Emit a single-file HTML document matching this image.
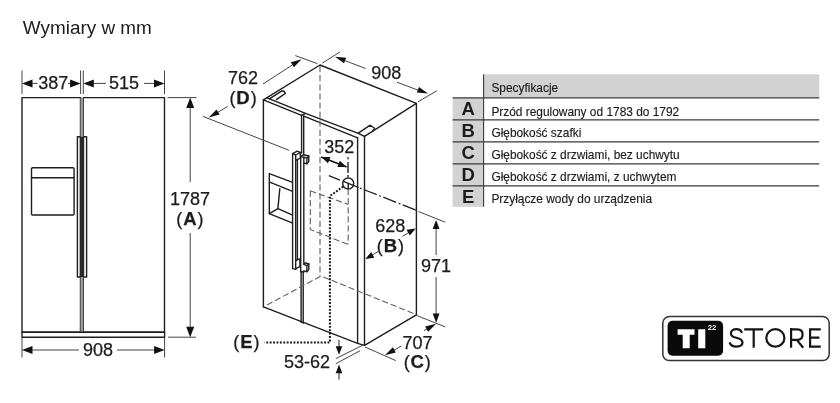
<!DOCTYPE html>
<html><head><meta charset="utf-8">
<style>
html,body{margin:0;padding:0;background:#fff;}
body{width:840px;height:403px;overflow:hidden;position:relative;font-family:"Liberation Sans",sans-serif;}
svg{position:absolute;left:0;top:0;filter:blur(0.45px);}
text{font-family:"Liberation Sans",sans-serif;fill:#1c1c1c;}
.k{stroke:#1e1e1e;stroke-width:1.4;fill:none;stroke-linecap:round;stroke-linejoin:round;}
.t{stroke:#444;stroke-width:1;fill:none;}
.d{stroke:#606060;stroke-width:1.1;fill:none;stroke-dasharray:6.2 2.9;}
.dd{stroke:#222;stroke-width:1.3;fill:none;stroke-dasharray:14 2.6 1.8 2.6;}
.dot{stroke:#161616;stroke-width:2;fill:none;stroke-dasharray:1.9 1.5;}
.a{fill:#111;stroke:none;}
.n{font-size:18px;text-anchor:middle;stroke:#1c1c1c;stroke-width:0.25;}
.b{font-weight:bold;font-size:18.5px;}
.p{letter-spacing:0.9px;}
.s{font-size:11.9px;stroke:#1c1c1c;stroke-width:0.15;}
.L{font-size:18.5px;font-weight:bold;text-anchor:middle;}
</style></head><body>
<svg width="840" height="403" viewBox="0 0 840 403">
<defs>
<path id="ah" d="M0,0 L-10.5,-4 L-10.5,4 Z"/>
<path id="ai" d="M0,0 L-10.8,-3 L-10.8,3 Z"/>
<path id="av" d="M0,0 L-9.2,-3.4 L-9.2,3.4 Z"/>
<path id="as" d="M0,0 L-8.6,-3.3 L-8.6,3.3 Z"/>
</defs>
<text id="title" x="22.8" y="33.8" font-size="18.4" textLength="129" lengthAdjust="spacingAndGlyphs">Wymiary w mm</text>

<!-- FRONT VIEW -->
<g id="front">
<rect class="k" x="22" y="97.6" width="58.5" height="234.7"/>
<rect class="k" x="83.3" y="97.6" width="81.2" height="234.7"/>
<rect x="80.5" y="97.6" width="2.8" height="234.7" fill="#9a9a9a"/>
<rect class="k" x="22" y="332.3" width="142.6" height="4.9"/>
<rect x="79.8" y="136.8" width="4.4" height="140.2" fill="#2a2a2a"/>
<path class="k" stroke-width="1.2" d="M79.8,136.8 H77.4 V277 H79.8 M84.2,136.8 H86.6 V277 H84.2"/>
<rect class="k" x="31.5" y="167.8" width="42.6" height="47.2" rx="1.2"/>
<line class="k" x1="31.5" y1="177.8" x2="74.1" y2="177.8"/>
<!-- top dims -->
<path class="t" d="M22,70.5V94 M80.6,70.5V94 M83.3,70.5V94 M164.5,70.5V94"/>
<path class="t" d="M30,83.4H37.5 M68,83.4H73 M92,83.4H106 M144,83.4H156"/>
<use href="#ah" class="a" transform="translate(22,83.4) rotate(180)"/>
<use href="#ah" class="a" transform="translate(80.6,83.4)"/>
<use href="#ah" class="a" transform="translate(83.3,83.4) rotate(180)"/>
<use href="#ah" class="a" transform="translate(164.5,83.4)"/>
<text class="n" x="53.2" y="88.6">387</text>
<text class="n" x="124.1" y="88.6">515</text>
<!-- bottom dim -->
<path class="t" d="M22,338V357.5 M164.6,338V357.5"/>
<path class="t" d="M30,350H79 M117,350H156"/>
<use href="#ah" class="a" transform="translate(22,350) rotate(180)"/>
<use href="#ah" class="a" transform="translate(164.6,350)"/>
<text class="n" x="97.9" y="356.4">908</text>
<!-- height dim -->
<path class="t" d="M167.5,97.6H196.5 M168,337.2H196"/>
<path class="t" d="M190.2,105V182 M190.2,233V330"/>
<use href="#ah" class="a" transform="translate(190.2,97.6) rotate(-90)"/>
<use href="#ah" class="a" transform="translate(190.2,337.2) rotate(90)"/>
<text class="n" x="190" y="205.4">1787</text>
<text class="n p" x="190.3" y="224.7">(<tspan class="b">A</tspan>)</text>
</g>

<!-- 3D VIEW -->
<g id="iso">
<!-- top face -->
<path class="k" d="M263.4,99.8 L320,65 L416.4,103.4 L364.5,136.3"/>
<!-- front top double edge -->
<path class="k" d="M263.4,99.9 L301.6,115.3 M303.8,116.1 L357.6,137.8"/>
<path class="k" d="M267,97.9 L305.5,113.4 L358.3,133.3 L364.5,136.3"/>
<path class="k" d="M301.6,115.3 L305.5,113.4"/>
<!-- hinge covers -->
<path class="k" d="M269.5,98.8 L281.8,90.8 Q284.5,90.8 285.3,93.4 L276.4,99.6" stroke-width="1.1"/>
<path class="k" d="M358.3,133.2 L370.2,125.2 L374.6,128.3 L372.6,131.2" stroke-width="1.1"/>
<!-- verticals -->
<path class="k" d="M263.4,99.9 V306.9"/>
<path class="k" d="M357.6,137.8 V343.3 M364.5,136.3 V345.3 M416.4,103.4 V314.8"/>
<!-- door gap -->
<path class="k" d="M301.6,115.3 V153 M303.7,116 V155" stroke-width="1"/>
<path class="k" d="M301.1,272 V322.4 M303.2,273 V323.2" stroke-width="1"/>
<!-- bottom edges -->
<path class="k" d="M263.4,306.9 L357.6,343.3 L364.5,345.3 L416.4,314.8"/>
<!-- hidden dashed -->
<path class="d" d="M320,66 V276" stroke-dashoffset="0"/>
<path class="d" d="M267,305 L321,276 L416,314.5"/>
</g>

<g id="iso2">
<!-- dispenser -->
<path class="k" d="M269.3,173.6 L292.6,182.3 M269.3,173.6 V213.6 L292.6,223.1" stroke-width="1.2"/>
<path class="k" d="M270.3,182.4 L292.6,191.3 M279.8,188.6 L277.9,208.6 L292.6,215.2 M269.3,213.6 L277.9,208.6" stroke-width="1.1"/>
<!-- handles -->
<g stroke-width="1.15">
<!-- left handle -->
<path class="k" style="fill:#fff" d="M292.6,153.6 L297.2,151.2 L300.3,152.5 L300.3,158 L297.4,159.6 L297.4,259.6 L299.9,259 L299.9,266.6 L295.7,268.6 L295.7,269.4 L292.6,268.6 Z"/>
<path class="k" d="M292.6,153.6 L295.7,155 L300.3,152.5 M295.7,155 V269.4 M297.4,159.6 L295.7,160.4 M297.4,259.6 L295.7,261" />
<!-- right handle -->
<path class="k" style="fill:#fff" d="M300.7,156.6 L303.4,154.7 L308.8,156 L308.8,161.6 L306.9,163.8 L303.8,162.9 L303.8,264.4 L305.6,262.9 L308.8,264 L308.8,269.6 L306.9,271.7 L303.8,270.8 L303.8,272.3 L300.7,271.5 Z"/>
<path class="k" d="M300.7,156.6 L303.8,157.2 L306.9,158.2 L308.8,156 M306.9,158.2 V163.8 M303.8,157.2 V162.9 M303.8,264.4 L306.9,265.7 L308.8,264 M306.9,265.7 V271.7"/>
</g>
<!-- 762 (D) -->
<path class="t" d="M295.3,55.6 L317.4,63.6"/>
<path class="t" d="M292.5,64.9 L263,84 M227.8,106.4 L217.5,112.5"/>
<path class="t" d="M203,116.4 L289,150.3"/>
<use href="#ai" class="a" transform="translate(301.6,59.2) rotate(-31)"/>
<use href="#ai" class="a" transform="translate(208.8,117.6) rotate(149)"/>
<text class="n" x="242.9" y="84.2">762</text>
<text class="n p" x="243.5" y="103.7">(<tspan class="b">D</tspan>)</text>
<!-- 908 iso -->
<path class="t" d="M322.4,63.1 L340,51.9 M418,101.8 L436.8,90.8"/>
<path class="t" d="M344.5,60.5 L365.6,68.5 M397,82.2 L419,90.5"/>
<use href="#ai" class="a" transform="translate(335,56.7) rotate(201)"/>
<use href="#ai" class="a" transform="translate(428,93.6) rotate(21)"/>
<text class="n" x="386.2" y="79.1">908</text>
<!-- 352 -->
<text class="n" x="339.2" y="153.2">352</text>
<path class="t" d="M321.2,157 L346.6,167" style="stroke:#111;stroke-width:1.4"/>
<use href="#as" class="a" transform="translate(321.2,157) rotate(201.5)"/>
<use href="#as" class="a" transform="translate(346.6,167) rotate(21.5)"/>
<path class="k" d="M348,162.5 V172.4 M348,157.6 V158.8 M348,175.4 V176.6" stroke-width="1.2"/>
<circle class="k" cx="348.2" cy="183.5" r="5.5" stroke-width="1.1"/>
<path class="k" d="M348.2,183.5 V189" stroke-width="1"/>
<!-- dash-dot -->
<path class="t" style="stroke:#222;stroke-width:1.3" d="M328.8,175.7 L340,180.1 M342.8,181.2 L353.3,185.4 L358.6,187.5 M360,188.1 L361.6,188.7"/><path class="dd" d="M363.7,189.5 L416.4,210.3"/>
<path class="t" d="M418.3,211.5 L445.3,222.2"/>
<!-- dashed box -->
<path class="d" d="M310.3,190.8 L348.2,204.4 M310.3,190.8 V229.5 L348.2,244.4 M348.2,189 V244.4"/>
<!-- dotted -->
<path class="dot" d="M343.2,186.6 L329.9,196 V342.4 H264.5"/>
<!-- 628 (B) -->
<text class="n" x="390.2" y="232.3">628</text>
<text class="n p" x="390.9" y="251.6">(<tspan class="b">B</tspan>)</text>
<path class="t" d="M402.4,236.4 L409,232.4 M378.5,251.3 L372,255.2"/>
<use href="#as" class="a" transform="translate(415.7,228.5) rotate(-29)"/>
<use href="#as" class="a" transform="translate(365.3,259) rotate(151)"/>
<!-- 971 -->
<path class="t" d="M436.1,226 V255 M436.1,277 V316"/>
<use href="#av" class="a" transform="translate(436.1,219.9) rotate(-90)"/>
<use href="#av" class="a" transform="translate(436.1,322.8) rotate(90)"/>
<text class="n" x="436.1" y="272">971</text>
<!-- 707 (C) -->
<path class="t" d="M365,347 L395.8,360.6 M416.7,315.5 L445,326.8"/>
<path class="t" d="M392,351.3 L401.4,346 M424,330.6 L428,328.3"/>
<use href="#ai" class="a" transform="translate(384.9,355.2) rotate(151)"/>
<use href="#ai" class="a" transform="translate(436.1,323.8) rotate(-29)"/>
<text class="n" x="417.6" y="348.7">707</text>
<text class="n p" x="417.7" y="367.6">(<tspan class="b">C</tspan>)</text>
<!-- 53-62 -->
<text class="n" x="306.9" y="368.1">53-62</text>
<path class="t" d="M339,339.8 V348 M339,371 V379.6" style="stroke:#222"/>
<use href="#as" class="a" transform="translate(339,354.8) rotate(90)"/>
<use href="#as" class="a" transform="translate(339,364.6) rotate(-90)"/>
<path class="t" d="M335.8,358.6 L364.1,344.5 M335.8,363.7 L360,350.8"/>
<!-- (E) -->
<text class="n p" x="246.8" y="347.8">(<tspan class="b">E</tspan>)</text>
</g>

<!-- TABLE -->
<g id="tbl">
<rect x="483.6" y="74.3" width="335.6" height="23.5" fill="#d2d2d2"/>
<rect x="452.6" y="97.8" width="31" height="109" fill="#d2d2d2"/>
<path d="M452.6,97.9H819.2 M452.6,119.9H819.2 M452.6,141.9H819.2 M452.6,163.9H819.2 M452.6,185.9H819.2" stroke="#3a3a3a" stroke-width="1.1" fill="none"/>
<path d="M483.6,74.3V206.8" stroke="#3a3a3a" stroke-width="1.1" fill="none"/>
<text class="s" x="491.4" y="92.3">Specyfikacje</text>
<text class="s" x="491.4" y="115.5">Przód regulowany od 1783 do 1792</text>
<text class="s" x="491.4" y="137.3">Głębokość szafki</text>
<text class="s" x="491.4" y="159.1">Głębokość z drzwiami, bez uchwytu</text>
<text class="s" x="491.4" y="180.9">Głębokość z drzwiami, z uchwytem</text>
<text class="s" x="491.4" y="202.7">Przyłącze wody do urządzenia</text>
<text class="L" x="468.2" y="115.4">A</text>
<text class="L" x="468.2" y="137.2">B</text>
<text class="L" x="468.2" y="159">C</text>
<text class="L" x="468.2" y="180.8">D</text>
<text class="L" x="468.2" y="202.6">E</text>
</g>
<!-- LOGO -->
<g id="logo">
<rect x="662.8" y="316.6" width="166.4" height="44" rx="6.5" fill="#fff" stroke="#333" stroke-width="1.5"/>
<rect x="667.6" y="320.8" width="55.5" height="35" rx="5" fill="#0a0a0a"/>
<path d="M677.6,329.2H694.5V334.8H689.7V348.2H682.7V334.8H677.6Z M698.2,329.2H705.3V348.2H698.2Z" fill="#fff"/>
<text x="707.7" y="330.2" font-size="7.8" font-weight="bold" style="fill:#fff">22</text>
<g fill="none" stroke="#151515" stroke-width="2.2" stroke-linejoin="miter">
<path d="M741.9,332.9 C741.2,330.5 739,329.2 736.3,329.2 C733.2,329.2 730.9,330.9 730.9,333.4 C730.9,335.9 733,337 736.3,337.8 C739.9,338.7 742.5,339.9 742.5,342.6 C742.5,345.2 739.9,346.6 736.3,346.6 C732.9,346.6 730.4,345.1 729.6,342.4"/>
<path d="M744.2,329.3 H763.2 M753.7,329.3 V347.7"/>
<ellipse cx="775.35" cy="337.9" rx="9.05" ry="8.75"/>
<path d="M791.1,328.1 V347.7 M791.1,329.3 H797.3 C800.6,329.3 802.6,331.5 802.6,334.6 C802.6,337.7 800.6,339.9 797.3,339.9 H791.1 M796.8,339.9 L803.2,347.7"/>
<path d="M820.8,329.3 H810.1 V346.6 H820.8 M810.1,337.7 H819.4"/>
</g>
</g>
</svg>
</body></html>
